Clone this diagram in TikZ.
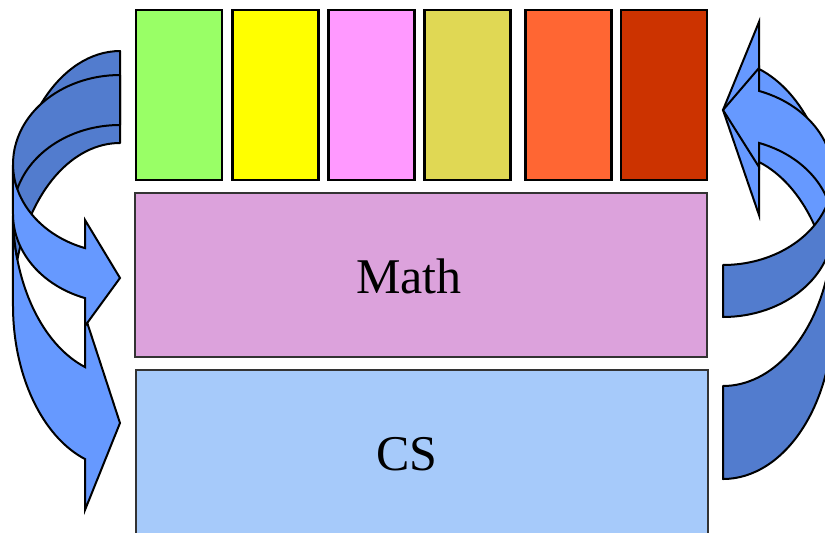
\documentclass[tikz,border=0pt]{standalone}
\usepackage{fontspec}
\setmainfont{Liberation Serif}
\definecolor{cgreen}{RGB}{153,255,102}
\definecolor{cyellow}{RGB}{255,255,0}
\definecolor{cpink}{RGB}{255,153,255}
\definecolor{ckhaki}{RGB}{224,216,84}
\definecolor{corange}{RGB}{255,102,51}
\definecolor{cred}{RGB}{204,51,0}
\definecolor{cmath}{RGB}{220,162,220}
\definecolor{ccs}{RGB}{166,202,250}
\definecolor{alight}{RGB}{102,153,255}
\definecolor{adark}{RGB}{82,124,206}
\begin{document}
\begin{tikzpicture}[x=1pt,y=1pt,yscale=-1,
  tbox/.style={draw=black, line width=2.2pt, minimum width=86pt, minimum height=170pt, inner sep=0pt},
  wbox/.style={draw=black!80, line width=1.8pt, inner sep=0pt},
  abody/.style={draw=black, line width=2pt, line join=miter, fill=alight},
  aback/.style={draw=black, line width=2pt, line join=round, fill=adark},
  lbl/.style={font=\fontsize{50}{60}\selectfont, anchor=base, inner sep=0pt}
]
\useasboundingbox (0,0) rectangle (825,533);
\clip (0,0) rectangle (825,533);

% ---------- left arrows ----------
% thick arrow B (behind)
\path[abody] (13,213.5) arc[start angle=180,end angle=109.09,x radius=107pt,y radius=162.5pt]
  -- (85,316) -- (120,423) -- (85,510) -- (85,459.06)
  arc[start angle=109.09,end angle=180,x radius=107pt,y radius=162.5pt] -- cycle;
\path[aback] (120,143) arc[start angle=270,end angle=196.44,x radius=107pt,y radius=162.5pt]
  arc[start angle=163.56,end angle=270,x radius=107pt,y radius=162.5pt] -- cycle;
% thin arrow A (front)
\path[abody] (13,164) arc[start angle=180,end angle=109.09,x radius=107pt,y radius=89pt]
  -- (85,220) -- (120,278) -- (85,326) -- (85,298.1)
  arc[start angle=109.09,end angle=180,x radius=107pt,y radius=89pt] -- cycle;
\path[aback] (120,125) arc[start angle=270,end angle=196.31,x radius=107pt,y radius=89pt]
  arc[start angle=163.69,end angle=270,x radius=107pt,y radius=89pt] -- cycle;

% ---------- right arrows ----------
% thick arrow D (behind)
\path[abody] (833,316) arc[start angle=0,end angle=-70.9,x radius=110pt,y radius=163pt]
  -- (759,215) -- (723,110) -- (759,22) -- (759,68.98)
  arc[start angle=-70.9,end angle=0,x radius=110pt,y radius=163pt] -- cycle;
\path[aback] (723,386) arc[start angle=90,end angle=16.58,x radius=110pt,y radius=163pt]
  arc[start angle=-16.58,end angle=90,x radius=110pt,y radius=163pt] -- cycle;
% thin arrow C (front)
\path[abody] (833,227.5) arc[start angle=0,end angle=-70.9,x radius=110pt,y radius=89.5pt]
  -- (759,167) -- (723,110) -- (759,68) -- (759,90.93)
  arc[start angle=-70.9,end angle=0,x radius=110pt,y radius=89.5pt] -- cycle;
\path[aback] (723,265) arc[start angle=90,end angle=16.89,x radius=110pt,y radius=89.5pt]
  arc[start angle=-16.89,end angle=90,x radius=110pt,y radius=89.5pt] -- cycle;

% ---------- top boxes ----------
\node[tbox, fill=cgreen]  (b1) at (179,95) {};
\node[tbox, fill=cyellow] (b2) at (275.5,95) {};
\node[tbox, fill=cpink]   (b3) at (371.5,95) {};
\node[tbox, fill=ckhaki]  (b4) at (467.5,95) {};
\node[tbox, fill=corange] (b5) at (568.5,95) {};
\node[tbox, fill=cred]    (b6) at (664,95) {};

% ---------- wide boxes ----------
\node[wbox, fill=cmath, minimum width=572pt, minimum height=164pt] (math) at (421,275) {};
\node[wbox, fill=ccs, minimum width=572pt, minimum height=180pt] (cs) at (422,460) {};
\node[lbl] (mathlbl) at (409,293) {Math};
\node[lbl] (cslbl) at (407,470) {CS};
\end{tikzpicture}
\end{document}
